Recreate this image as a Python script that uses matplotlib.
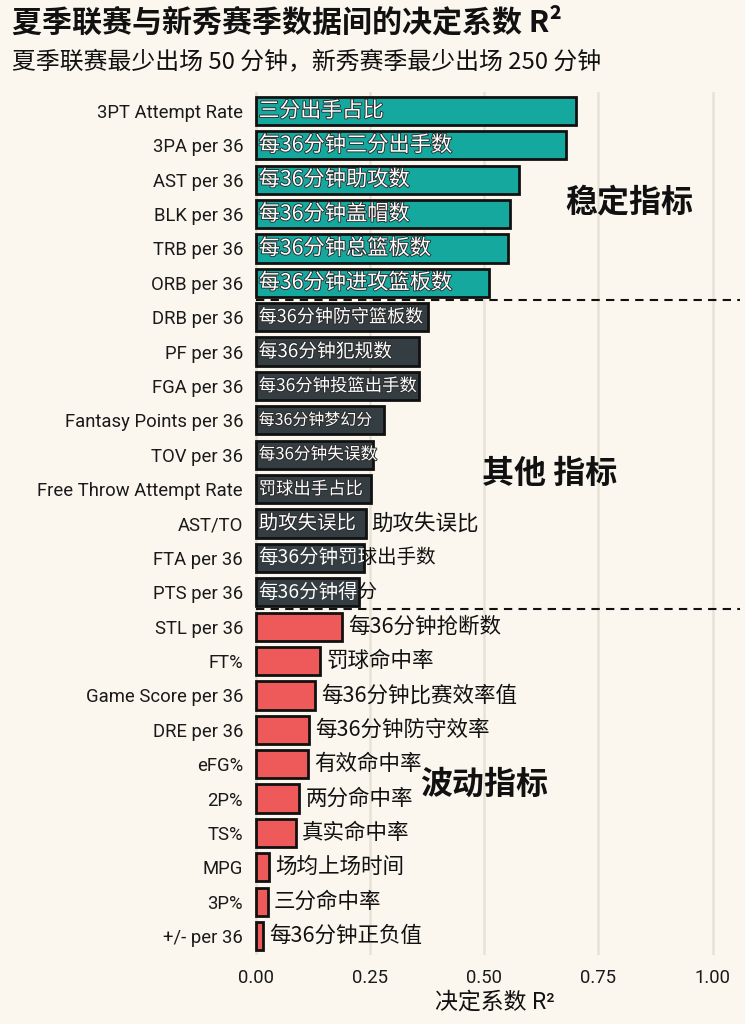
import matplotlib
matplotlib.use("Agg")
import matplotlib.pyplot as plt
import matplotlib.patheffects as pe

plt.rcParams['font.family'] = ['Roboto', 'Noto Sans CJK SC', 'DejaVu Sans']

# ---------------- data ----------------
metrics = ["3PT Attempt Rate", "3PA per 36", "AST per 36", "BLK per 36", "TRB per 36",
           "ORB per 36", "DRB per 36", "PF per 36", "FGA per 36", "Fantasy Points per 36",
           "TOV per 36", "Free Throw Attempt Rate", "AST/TO", "FTA per 36", "PTS per 36",
           "STL per 36", "FT%", "Game Score per 36", "DRE per 36", "eFG%", "2P%", "TS%",
           "MPG", "3P%", "+/- per 36"]
labels_cn = ["三分出手占比", "每36分钟三分出手数", "每36分钟助攻数", "每36分钟盖帽数",
             "每36分钟总篮板数", "每36分钟进攻篮板数", "每36分钟防守篮板数", "每36分钟犯规数",
             "每36分钟投篮出手数", "每36分钟梦幻分", "每36分钟失误数", "罚球出手占比",
             "助攻失误比", "每36分钟罚球出手数", "每36分钟得分", "每36分钟抢断数",
             "罚球命中率", "每36分钟比赛效率值", "每36分钟防守效率", "有效命中率",
             "两分命中率", "真实命中率", "场均上场时间", "三分命中率", "每36分钟正负值"]
r2 = [0.701, 0.679, 0.576, 0.556, 0.552, 0.510, 0.376, 0.358, 0.356, 0.281, 0.257,
      0.252, 0.240, 0.237, 0.226, 0.189, 0.141, 0.130, 0.117, 0.115, 0.095, 0.088,
      0.029, 0.026, 0.015]
groups = ["stable"] * 6 + ["other"] * 9 + ["volatile"] * 10
group_names = {"stable": "稳定指标", "other": "其他 指标", "volatile": "波动指标"}
xticks = [0.0, 0.25, 0.5, 0.75, 1.0]
title = "夏季联赛与新秀赛季数据间的决定系数 R²"
subtitle = "夏季联赛最少出场 50 分钟，新秀赛季最少出场 250 分钟"
xlabel = "决定系数 R²"

# ---------------- style ----------------
BG = "#FBF7EE"
colors = {"stable": "#14A89E", "other": "#343D42", "volatile": "#EE5A5A"}
inside_size = {0: 15, 1: 15.3, 2: 15.3, 3: 15.3, 4: 15.3, 5: 15.3, 6: 13, 7: 13.5,
               8: 12.5, 9: 11.5, 10: 12, 11: 12.5, 12: 14, 13: 14, 14: 14}

fig = plt.figure(figsize=(7.45, 10.24), dpi=100, facecolor=BG)
ax = fig.add_axes([250 / 745, 1 - 955 / 1024, (740 - 250) / 745, (955 - 92) / 1024])
ax.set_facecolor(BG)

ypos = list(range(len(metrics)))
bar_colors = [colors[g] for g in groups]
bars = ax.barh(ypos, r2, height=0.82, color=bar_colors, edgecolor="#111111",
               linewidth=2, zorder=3)

ax.set_xlim(-0.013, 1.06)
ax.set_ylim(len(metrics) - 0.45, -0.55)
ax.set_xticks(xticks)
ax.set_xticklabels([f"{t:.2f}" for t in xticks], fontsize=13.3, color="#1A1A1A")
ax.set_yticks(ypos)
ax.set_yticklabels(metrics, fontsize=13.3, color="#1A1A1A")
ax.tick_params(axis="y", length=0, pad=5)
ax.tick_params(axis="x", length=0, pad=10)
for s in ax.spines.values():
    s.set_visible(False)
ax.grid(axis="x", color="#E6E2D8", linewidth=1.8, zorder=0)
ax.set_axisbelow(True)
ax.set_xlabel(xlabel, fontsize=16.5, color="#111111", labelpad=3)

cjk = ["Noto Sans CJK SC", "DejaVu Sans"]
stroke = [pe.withStroke(linewidth=1.3, foreground="#2A2A2A")]
for i, (b, v, g, lab) in enumerate(zip(bars, r2, groups, labels_cn)):
    if g == "volatile":
        ax.text(v + 0.013, i, lab, va="center", ha="left", fontsize=15.5,
                color="#111111", family=cjk, zorder=4)
    elif i in (13, 14):
        ax.text(0.006, i, lab, va="center", ha="left", fontsize=inside_size[i],
                color="#111111", family=cjk, zorder=4)
        t = ax.text(0.006, i, lab, va="center", ha="left", fontsize=inside_size[i],
                    color="white", family=cjk, zorder=5)
        t.set_clip_path(b)
        t.set_clip_on(True)
    else:
        ax.text(0.006, i, lab, va="center", ha="left", fontsize=inside_size[i],
                color="white", family=cjk, zorder=5, path_effects=stroke)
        if i == 12:
            ax.text(v + 0.013, i, lab, va="center", ha="left", fontsize=15.5,
                    color="#111111", family=cjk, zorder=4)

# separators between groups
for y in (5.5, 14.5):
    ax.axhline(y, xmin=0.012, xmax=1.0, color="#111111", linestyle=(0, (4, 3)),
               linewidth=1.5, zorder=4)

# group annotations
ax.text(0.818, 2.65, group_names["stable"], fontsize=23, fontweight="bold",
        ha="center", va="center", family=cjk, color="#111111", zorder=6)
ax.text(0.644, 10.55, group_names["other"], fontsize=23, fontweight="bold",
        ha="center", va="center", family=cjk, color="#111111", zorder=6)
ax.text(0.499, 19.6, group_names["volatile"], fontsize=23, fontweight="bold",
        ha="center", va="center", family=cjk, color="#111111", zorder=6)

fig.text(12 / 745, 1 - 22 / 1024, title, fontsize=21.6, fontweight="bold",
         ha="left", va="center", color="#111111", family=cjk)
fig.text(12 / 745, 1 - 62 / 1024, subtitle, fontsize=17.2,
         ha="left", va="center", color="#111111", family=cjk)

fig.savefig("out.png", dpi=100, facecolor=BG)
